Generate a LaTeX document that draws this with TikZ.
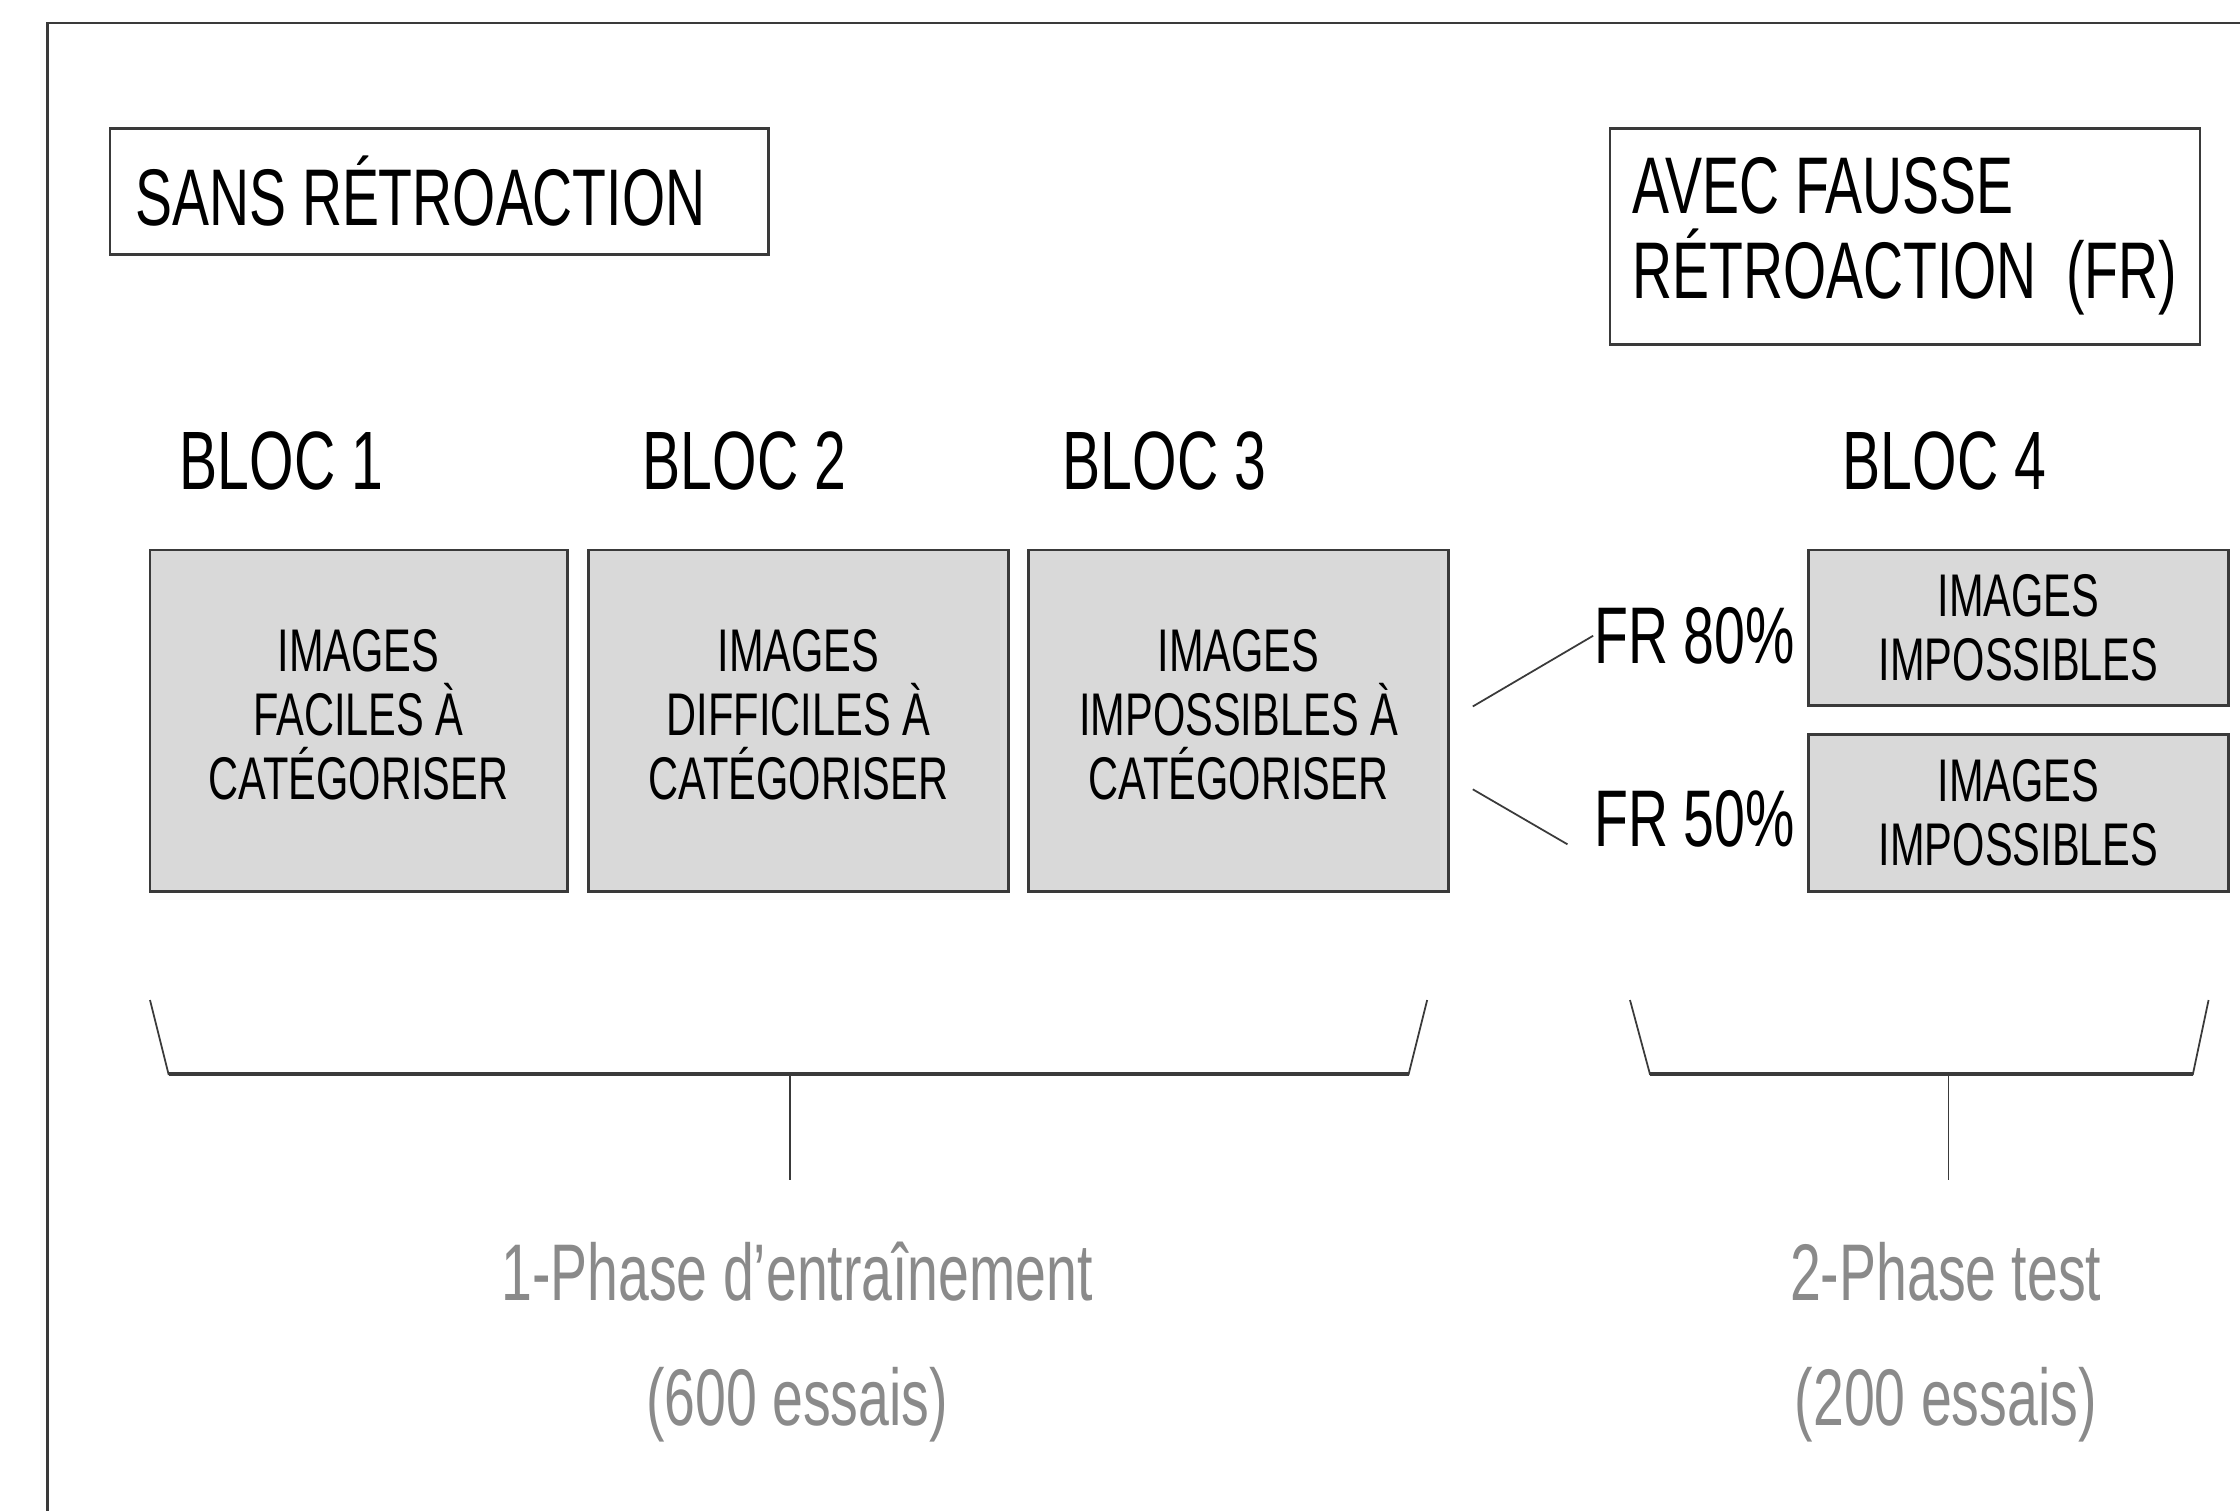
\documentclass[tikz,border=0pt]{standalone}
\usepackage{fontspec}
\setmainfont{Liberation Sans}[FakeStretch=0.69]
\definecolor{edge}{HTML}{3A3A3A}
\definecolor{cellfill}{HTML}{D9D9D9}
\definecolor{phasegray}{HTML}{8A8A8A}
\begin{document}
\begin{tikzpicture}[x=0.1mm,y=-0.1mm,
    tag/.style={draw=edge,line width=0.55pt,align=flush left,inner sep=0pt,
      font=\fontsize{16}{17}\selectfont},
    bloc/.style={inner sep=0pt,font=\fontsize{16.5}{17}\selectfont},
    rate/.style={inner sep=0pt,font=\fontsize{16}{17}\selectfont},
    cell/.style={draw=edge,fill=cellfill,line width=0.55pt,align=center,
      inner sep=0pt,font=\fontsize{12}{12.8}\selectfont},
    phase/.style={text=phasegray,inner sep=0pt,font=\fontsize{16}{17}\selectfont},
    brace/.style={draw=edge,line width=0.35pt}]
      \clip (0,0) rectangle (1568,1057);
      \draw[edge,line width=0.55pt] (33,16) rectangle (1700,1200);
      % conditions
      \node[tag,minimum width=46.1mm,minimum height=8.8mm,text width=42.5mm]
        (sans) at (307.5,134) {SANS RÉTROACTION};
      \node[tag,minimum width=41.3mm,minimum height=15.1mm,text width=38.1mm]
        (avec) at (1333.5,165.5) {AVEC FAUSSE\\RÉTROACTION \ (FR)};
      % blocs
      \node[bloc] (l1) at (197,323) {BLOC 1};
      \node[bloc] (l2) at (521,323) {BLOC 2};
      \node[bloc] (l3) at (815,323) {BLOC 3};
      \node[bloc] (l4) at (1361,323) {BLOC 4};
      \node[cell,minimum width=29.2mm,minimum height=23.9mm] (b1) at (251,504.5)
        {IMAGES\\FACILES À\\CATÉGORISER\vphantom{p}};
      \node[cell,minimum width=29.4mm,minimum height=23.9mm] (b2) at (559,504.5)
        {IMAGES\\DIFFICILES À\\CATÉGORISER\vphantom{p}};
      \node[cell,minimum width=29.4mm,minimum height=23.9mm] (b3) at (867,504.5)
        {IMAGES\\IMPOSSIBLES À\\CATÉGORISER\vphantom{p}};
      \node[cell,minimum width=29.4mm,minimum height=10.9mm] (t4) at (1413,439.5)
        {IMAGES\\IMPOSSIBLES};
      \node[cell,minimum width=29.4mm,minimum height=11mm] (u4) at (1413,569)
        {IMAGES\\IMPOSSIBLES};
      \node[rate] (fr80) at (1186,445) {FR 80\%};
      \node[rate] (fr50) at (1186,573) {FR 50\%};
      \begin{scope}[brace]
        \draw ([shift={(16,-10)}]b3.east) to (fr80.west);
        \draw ([shift={(16,48)}]b3.east) to ([shift={(-18,18)}]fr50.west);
      \end{scope}
      % phases
      \coordinate (k1) at (553,752);
      \coordinate (s1) at (553,826);
      \coordinate (k2) at (1364,752);
      \coordinate (s2) at (1364,826);
      \draw[brace] (105,700) -- (118,752) -- (986,752) -- (999,700);
      \draw[brace] (1141,700) -- (1155,752) -- (1535,752) -- (1546,700);
      \draw[brace,line width=0.75pt] (118,752) -- (986,752) (1155,752) -- (1535,752);
      \draw[brace] (k1) -- (s1);
      \draw[brace] (k2) -- (s2);
      \node[phase] (ph1) at (558,890) {1-Phase d’entraînement};
      \node[phase] (es1) at (558,983) {(600 essais)};
      \node[phase] (ph2) at (1362,890) {2-Phase test};
      \node[phase] (es2) at (1362,983) {(200 essais)};
    \end{tikzpicture}
\end{document}
